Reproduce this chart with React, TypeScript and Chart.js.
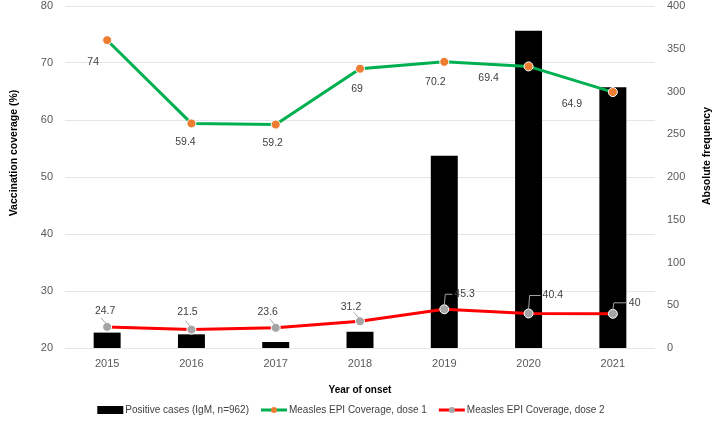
import React, { useEffect, useRef } from "react";
import { Chart, registerables } from "chart.js";

Chart.register(...registerables);

const years = ["2015", "2016", "2017", "2018", "2019", "2020", "2021"];
const positiveCases = [18, 16, 7, 19, 225, 371, 305];
const dose1Coverage = [74, 59.4, 59.2, 69, 70.2, 69.4, 64.9];
const dose2Coverage = [24.7, 21.5, 23.6, 31.2, 45.3, 40.4, 40];

const FONT = "'Liberation Sans', Arial, sans-serif";
const TICK_COLOR = "#595959";
const LABEL_COLOR = "#404040";

// label offsets relative to each point (layout only)
const dose1Offsets = [[-14, 22], [-6, 19], [-3, 19], [-3, 20], [-9, 20], [-40, 12], [-41, 12]];
const dose2Offsets = [[-2, -16], [-4, -18], [-8, -16], [-9, -14], [10, -15], [14, -18], [16, -11]];

const labelsPlugin = {
  id: "pointLabels",
  afterDatasetsDraw(chart: any) {
    const ctx = chart.ctx;
    ctx.save();
    ctx.font = `10.5px ${FONT}`;
    ctx.fillStyle = LABEL_COLOR;
    ctx.textBaseline = "middle";
    const m1 = chart.getDatasetMeta(1);
    m1.data.forEach((p: any, i: number) => {
      const [dx, dy] = dose1Offsets[i];
      ctx.textAlign = "center";
      ctx.fillText(String(dose1Coverage[i]), p.x + dx, p.y + dy);
    });
    const m2 = chart.getDatasetMeta(2);
    ctx.strokeStyle = "#a6a6a6";
    ctx.lineWidth = 1;
    m2.data.forEach((p: any, i: number) => {
      const txt = String(dose2Coverage[i]);
      const [dx, dy] = dose2Offsets[i];
      if (i < 4) {
        ctx.beginPath();
        ctx.moveTo(p.x - 6, p.y - 9);
        ctx.lineTo(p.x - 1, p.y - 3);
        ctx.stroke();
        ctx.textAlign = "center";
        ctx.fillStyle = LABEL_COLOR;
        ctx.fillText(txt, p.x + dx, p.y + dy);
      } else {
        ctx.beginPath();
        ctx.moveTo(p.x, p.y - 4);
        ctx.lineTo(p.x + 1, p.y + dy);
        ctx.lineTo(p.x + dx - 2, p.y + dy);
        ctx.stroke();
        ctx.textAlign = "left";
        ctx.fillStyle = LABEL_COLOR;
        ctx.fillText(txt, p.x + dx, p.y + dy);
      }
    });
    ctx.restore();
  },
};

const titlesPlugin = {
  id: "axisTitles",
  afterDraw(chart: any) {
    const ctx = chart.ctx;
    ctx.save();
    ctx.font = `bold 10.5px ${FONT}`;
    ctx.fillStyle = "#000";
    ctx.textAlign = "center";
    ctx.textBaseline = "middle";
    ctx.translate(14, 153);
    ctx.rotate(-Math.PI / 2);
    ctx.fillText("Vaccination coverage (%)", 0, 0);
    ctx.restore();
    ctx.save();
    ctx.font = `bold 10.5px ${FONT}`;
    ctx.fillStyle = "#000";
    ctx.textAlign = "center";
    ctx.textBaseline = "middle";
    ctx.translate(707, 156);
    ctx.rotate(-Math.PI / 2);
    ctx.fillText("Absolute frequency", 0, 0);
    ctx.restore();
  },
};

const legendPlugin = {
  id: "customLegend",
  afterDraw(chart: any) {
    const ctx = chart.ctx;
    ctx.save();
    ctx.font = `10px ${FONT}`;
    ctx.textBaseline = "middle";
    const items = [
      { label: "Positive cases (IgM, n=962)", kind: "bar" },
      { label: "Measles EPI Coverage, dose 1", kind: "l1" },
      { label: "Measles EPI Coverage, dose 2", kind: "l2" },
    ];
    const sw = 26;
    const gap = 2;
    const itemGap = 12;
    let total = 0;
    items.forEach((it) => {
      total += sw + gap + ctx.measureText(it.label).width;
    });
    total += itemGap * (items.length - 1);
    let x = 351 - total / 2;
    const y = 410;
    items.forEach((it) => {
      if (it.kind === "bar") {
        ctx.fillStyle = "#000";
        ctx.fillRect(x, y - 4, sw, 8);
      } else {
        const col = it.kind === "l1" ? "#00B050" : "#FF0000";
        const pc = it.kind === "l1" ? "#ED7D31" : "#A5A5A5";
        ctx.strokeStyle = col;
        ctx.lineWidth = 3;
        ctx.beginPath();
        ctx.moveTo(x, y);
        ctx.lineTo(x + sw, y);
        ctx.stroke();
        ctx.fillStyle = pc;
        ctx.beginPath();
        ctx.arc(x + sw / 2, y, 3, 0, Math.PI * 2);
        ctx.fill();
      }
      ctx.fillStyle = LABEL_COLOR;
      ctx.textAlign = "left";
      ctx.fillText(it.label, x + sw + gap, y);
      x += sw + gap + ctx.measureText(it.label).width + itemGap;
    });
    ctx.restore();
  },
};

export default function App() {
  const ref = useRef<HTMLCanvasElement>(null);
  useEffect(() => {
    document.body.style.margin = "0";
    const chart = new Chart(ref.current!, {
      type: "bar",
      data: {
        labels: years,
        datasets: [
          {
            type: "bar",
            label: "Positive cases (IgM, n=962)",
            data: positiveCases,
            backgroundColor: "#000000",
            yAxisID: "y1",
            barPercentage: 0.32,
            categoryPercentage: 1,
            order: 3,
          },
          {
            type: "line",
            label: "Measles EPI Coverage, dose 1",
            data: dose1Coverage,
            borderColor: "#00B050",
            borderWidth: 3,
            backgroundColor: "#ED7D31",
            pointBackgroundColor: "#ED7D31",
            pointBorderColor: "#ffffff",
            pointBorderWidth: 1,
            pointRadius: 4.5,
            yAxisID: "y",
            order: 1,
          },
          {
            type: "line",
            label: "Measles EPI Coverage, dose 2",
            data: dose2Coverage,
            borderColor: "#FF0000",
            borderWidth: 3,
            backgroundColor: "#A5A5A5",
            pointBackgroundColor: "#A5A5A5",
            pointBorderColor: "#ffffff",
            pointBorderWidth: 1,
            pointRadius: 4.5,
            yAxisID: "y1",
            order: 2,
          },
        ],
      },
      options: {
        animation: false,
        responsive: false,
        maintainAspectRatio: false,
        layout: { padding: { top: 0, right: 0, bottom: 26, left: 8 } },
        plugins: {
          legend: { display: false },
          tooltip: { enabled: false },
        },
        scales: {
          x: {
            grid: { display: false, drawTicks: false },
            border: { display: false },
            ticks: { color: TICK_COLOR, font: { family: FONT, size: 11 }, padding: 9 },
            title: {
              display: true,
              text: "Year of onset",
              color: "#000",
              font: { family: FONT, size: 10, weight: "bold" },
              padding: { top: 4, bottom: 4 },
            },
            afterFit(scale: any) {
              scale.height = 52;
            },
          },
          y: {
            position: "left",
            min: 20,
            max: 80,
            ticks: { stepSize: 10, color: TICK_COLOR, font: { family: FONT, size: 11 }, padding: 12 },
            grid: { color: "#e2e6ec", drawTicks: false },
            border: { display: false },
            title: { display: false },
            afterFit(scale: any) {
              scale.width = 57;
              scale.paddingTop = 6;
              scale.paddingBottom = 6;
            },
          },
          y1: {
            position: "right",
            min: 0,
            max: 400,
            ticks: { stepSize: 50, color: TICK_COLOR, font: { family: FONT, size: 11 }, padding: 12 },
            grid: { display: false, drawTicks: false },
            border: { display: false },
            title: { display: false },
            afterFit(scale: any) {
              scale.width = 59;
              scale.paddingTop = 6;
              scale.paddingBottom = 6;
            },
          },
        },
      },
      plugins: [labelsPlugin, titlesPlugin, legendPlugin],
    });
    return () => chart.destroy();
  }, []);
  return (
    <div style={{ position: "absolute", left: 0, top: 0, width: 714, height: 426, background: "#fff" }}>
      <canvas ref={ref} width={714} height={426} style={{ width: 714, height: 426, display: "block" }} />
    </div>
  );
}
